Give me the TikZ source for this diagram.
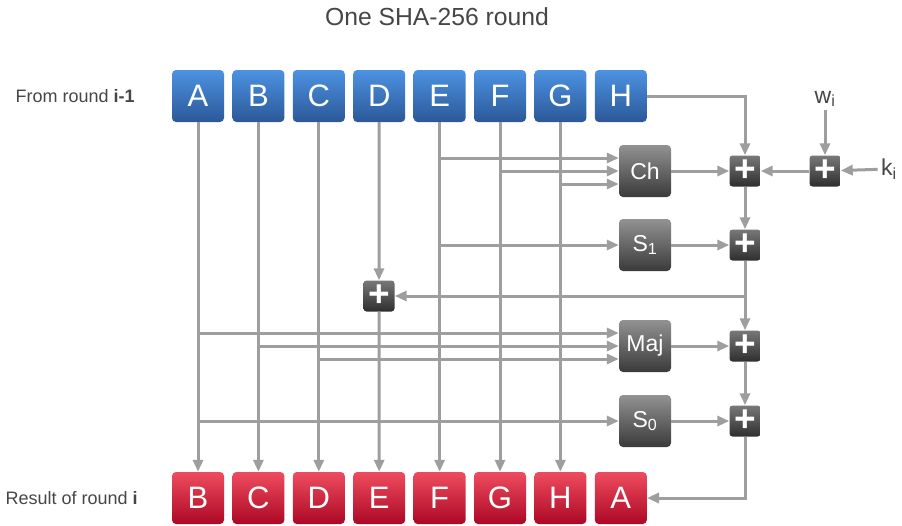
\documentclass[tikz,border=0pt]{standalone}
\usepackage{fontspec}
\setmainfont{Liberation Sans}
\usetikzlibrary{positioning, arrows.meta, calc}
\definecolor{bluetop}{RGB}{76,146,226}
\definecolor{bluebot}{RGB}{44,88,152}
\definecolor{redtop}{RGB}{238,76,94}
\definecolor{redbot}{RGB}{172,8,38}
\definecolor{graytop}{RGB}{146,146,146}
\definecolor{graybot}{RGB}{58,58,58}
\definecolor{addtop}{RGB}{120,120,120}
\definecolor{addbot}{RGB}{46,46,46}
\definecolor{wirecol}{RGB}{158,158,158}
\definecolor{textcol}{RGB}{70,70,70}
\tikzset{
  reg/.style={rectangle, rounded corners=4pt, minimum size=52pt, inner sep=0pt, text=white, font=\fontsize{31}{31}\selectfont},
  inreg/.style={reg, top color=bluetop, bottom color=bluebot},
  outreg/.style={reg, top color=redtop, bottom color=redbot},
  func/.style={rectangle, rounded corners=4pt, minimum size=52pt, inner sep=0pt, text=white, top color=graytop, bottom color=graybot, font=\fontsize{23}{23}\selectfont},
  adder/.style={rectangle, rounded corners=3pt, minimum size=31pt, inner sep=0pt, text=white, top color=addtop, bottom color=addbot, font=\fontsize{37}{37}\selectfont\bfseries},
  note/.style={text=textcol, font=\fontsize{18}{20}\selectfont},
  wire/.style={draw=wirecol, line width=3pt},
  arrow/.style={wire, -{Triangle[length=12pt,width=10pt]}}
}
\begin{document}
\begin{tikzpicture}[x=1pt, y=-1pt, node distance=8pt]
  \useasboundingbox (0,0) rectangle (902,525);

  \node (title) [text=textcol, font=\fontsize{24.7}{28}\selectfont] at (437,17) {One SHA-256 round};

  % Registers of round i-1
  \node (tA) [inreg] at (198,96) {A};
  \node (tB) [inreg, right=of tA] {B};
  \node (tC) [inreg, right=of tB] {C};
  \node (tD) [inreg, right=of tC] {D};
  \node (tE) [inreg, right=of tD] {E};
  \node (tF) [inreg, right=of tE] {F};
  \node (tG) [inreg, right=of tF] {G};
  \node (tH) [inreg, right=of tG] {H};
  \node (from) [note, anchor=west] at (12,96) {From round \textbf{i-1}};

  % Registers of round i
  \node (bB) [outreg] at (198,498) {B};
  \node (bC) [outreg, right=of bB] {C};
  \node (bD) [outreg, right=of bC] {D};
  \node (bE) [outreg, right=of bD] {E};
  \node (bF) [outreg, right=of bE] {F};
  \node (bG) [outreg, right=of bF] {G};
  \node (bH) [outreg, right=of bG] {H};
  \node (bA) [outreg, right=of bH] {A};
  \node (result) [note, anchor=west] at (2,498) {Result of round \textbf{i}};

  % Functions
  \node (Ch) [func] at (645,171) {Ch};
  \node (S1) [func] at (645,245) {S\textsubscript{1}};
  \node (Maj) [func] at (645,346) {Maj};
  \node (S0) [func] at (645,421) {S\textsubscript{0}};

  % Adders
  \node (p1) [adder] at (745,171) {+};
  \node (p2) [adder] at (825,171) {+};
  \node (pS1) [adder] at (745,245) {+};
  \node (pD) [adder] at (379,296) {+};
  \node (pMaj) [adder] at (745,346) {+};
  \node (pS0) [adder] at (745,421) {+};

  \node (wi) [text=textcol, font=\fontsize{23}{23}\selectfont] at (825,99) {w\textsubscript{i}};
  \node (ki) [text=textcol, font=\fontsize{23}{23}\selectfont] at (889,169) {k\textsubscript{i}};

  % Pass-through wires
  \draw [arrow] (tA) -- (bB);
  \draw [arrow] (tB) -- (bC);
  \draw [arrow] (tC) -- (bD);
  \draw [arrow] (tE) -- (bF);
  \draw [arrow] (tF) -- (bG);
  \draw [arrow] (tG) -- (bH);
  \draw [arrow] (tD) -- (pD);
  \draw [arrow] (pD) -- (bE);

  % Inputs to Ch and S1
  \coordinate (ch1) at ([yshift=13pt]Ch.west);
  \coordinate (ch3) at ([yshift=-13pt]Ch.west);
  \draw [arrow] (tE |- ch1) -- (ch1);
  \draw [arrow] (tF |- Ch.west) -- (Ch.west);
  \draw [arrow] (tG |- ch3) -- (ch3);
  \draw [arrow] (tE |- S1.west) -- (S1.west);

  % Inputs to Maj and S0
  \coordinate (maj1) at ([yshift=13pt]Maj.west);
  \coordinate (maj3) at ([yshift=-13pt]Maj.west);
  \draw [arrow] (tA |- maj1) -- (maj1);
  \draw [arrow] (tB |- Maj.west) -- (Maj.west);
  \draw [arrow] (tC |- maj3) -- (maj3);
  \draw [arrow] (tA |- S0.west) -- (S0.west);

  % Adder chain
  \draw [arrow] (tH.east) -| (p1.north);
  \draw [arrow] (wi) -- (p2);
  \draw [arrow] (ki) -- (p2);
  \draw [arrow] (p2) -- (p1);
  \draw [arrow] (Ch) -- (p1);
  \draw [arrow] (p1) -- (pS1);
  \draw [arrow] (S1) -- (pS1);
  \draw [arrow] (pS1) -- (pMaj);
  \draw [arrow] (pS1 |- pD) -- (pD);
  \draw [arrow] (Maj) -- (pMaj);
  \draw [arrow] (pMaj) -- (pS0);
  \draw [arrow] (S0) -- (pS0);
  \draw [arrow] (pS0.south) |- (bA.east);
\end{tikzpicture}
\end{document}
